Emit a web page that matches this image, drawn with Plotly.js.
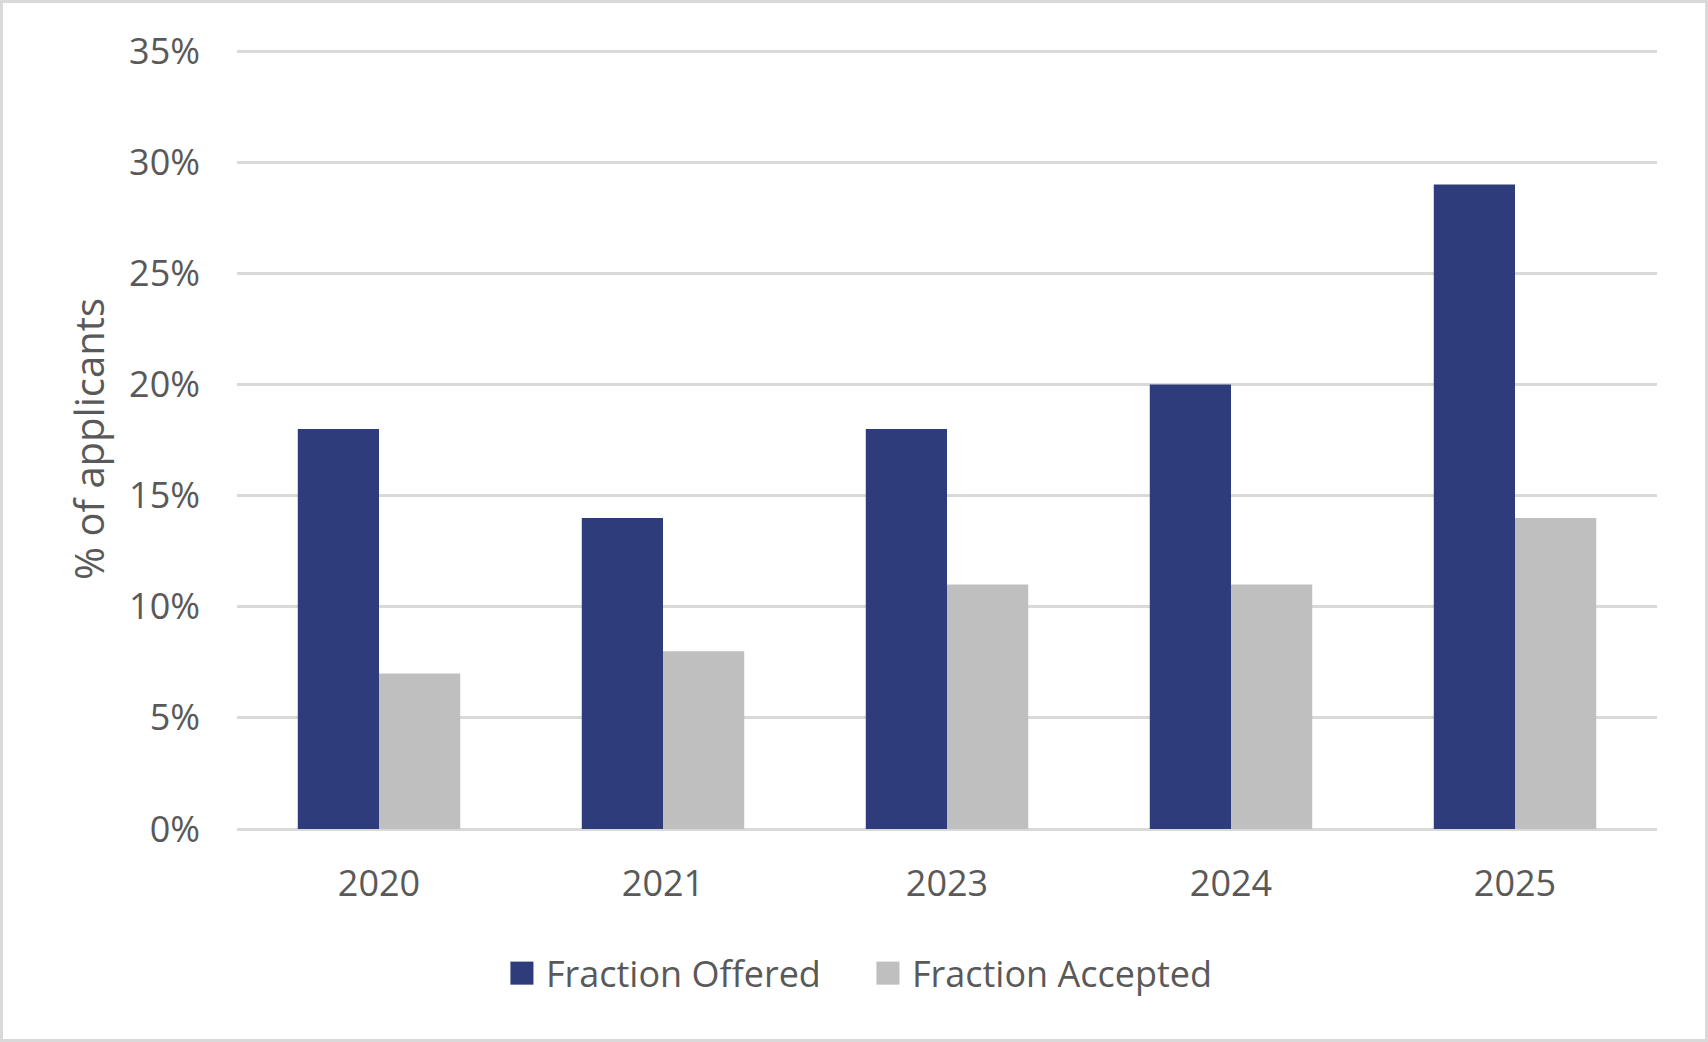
<!DOCTYPE html>
<html>
<head>
<meta charset="utf-8">
<script src="https://cdn.plot.ly/plotly-3.0.1.min.js"></script>
<style>
  html, body { margin: 0; padding: 0; background: #fff; }
  #wrap { position: relative; width: 1708px; height: 1042px; }
  #chart { width: 1708px; height: 1042px; }
  #frame { position: absolute; left: 0; top: 0; width: 1708px; height: 1042px; box-sizing: border-box; border: 3px solid #d9d9d9; pointer-events: none; }
</style>
</head>
<body>
<div id="wrap"><div id="chart"></div><div id="frame"></div></div>
<script>
const years = ["2020", "2021", "2023", "2024", "2025"];
const fractionOffered = [18, 14, 18, 20, 29];
const fractionAccepted = [7, 8, 11, 11, 14];
const yTickValues = [0, 5, 10, 15, 20, 25, 30, 35];
const yTickLabels = ["0%", "5%", "10%", "15%", "20%", "25%", "30%", "35%"];

const textColor = "#595959";
const fontFamily = "'Open Sans', 'Noto Sans', sans-serif";

const traces = [
  {
    type: "bar", name: "Fraction Offered", x: years, y: fractionOffered,
    marker: { color: "#2E3C7C" }, hoverinfo: "x+y"
  },
  {
    type: "bar", name: "Fraction Accepted", x: years, y: fractionAccepted,
    marker: { color: "#BFBFBF" }, hoverinfo: "x+y"
  }
];

const layout = {
  width: 1708, height: 1042,
  margin: { l: 237, r: 51, t: 49, b: 213, pad: 0 },
  paper_bgcolor: "#ffffff", plot_bgcolor: "#ffffff",
  barmode: "group", bargap: 0.428, bargroupgap: 0,
  font: { family: fontFamily, color: textColor, size: 36 },
  showlegend: true,
  legend: {
    orientation: "h", xref: "container", yref: "container",
    x: 0.5105, xanchor: "center", y: 0.066, yanchor: "middle",
    font: { family: fontFamily, size: 36, color: textColor },
    entrywidth: 321, entrywidthmode: "pixels",
    bgcolor: "rgba(0,0,0,0)"
  },
  xaxis: {
    type: "category", categoryarray: years, categoryorder: "array",
    showgrid: false, showline: false, zeroline: false, ticks: "",
    tickfont: { family: fontFamily, size: 36, color: textColor },
    ticklabelstandoff: 30, automargin: false, fixedrange: true
  },
  yaxis: {
    range: [0, 35.1], tickvals: yTickValues, ticktext: yTickLabels,
    showgrid: true, gridcolor: "#d9d9d9", gridwidth: 3,
    zeroline: true, zerolinecolor: "#d9d9d9", zerolinewidth: 3,
    showline: false, ticks: "",
    tickfont: { family: fontFamily, size: 36, color: textColor },
    ticklabelstandoff: 36, automargin: false, fixedrange: true,
    title: { text: "% of applicants", font: { family: fontFamily, size: 40, color: textColor }, standoff: 12 }
  }
};

Plotly.newPlot("chart", traces, layout, { displayModeBar: false, staticPlot: true }).then(function () {
  document.querySelectorAll("#chart .legend [clip-path]").forEach(function (el) {
    el.removeAttribute("clip-path");
  });
  document.querySelectorAll("#chart .legend .legendpoints path").forEach(function (p) {
    p.setAttribute("transform", "translate(16,0) scale(1.92)");
  });
});
</script>
</body>
</html>
